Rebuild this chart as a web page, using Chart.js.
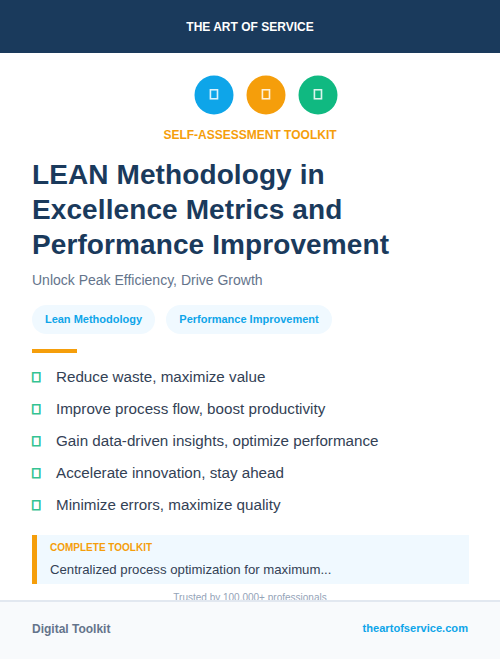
<!DOCTYPE html>
<html>
<head>
<meta charset="utf-8">
<script src="https://cdn.jsdelivr.net/npm/chart.js@4"></script>
<style>
html, body { margin: 0; padding: 0; background: #fff; }
body { position: relative; width: 500px; height: 659px; overflow: hidden; font-family: "Liberation Sans", sans-serif; }
.abs { position: absolute; white-space: nowrap; }
#header { left: 0; top: 0; width: 500px; height: 53px; background: #1a3a5c; color: #fff; font-size: 12px; font-weight: 700; line-height: 54px; text-align: center; }
#icons { left: 188px; top: 69px; width: 156px; height: 52px; }
#kit { left: 0; width: 500px; top: 128px; text-align: center; font-size: 12px; font-weight: 700; color: #f59e0b; line-height: 14px; }
.title { left: 32px; font-size: 28px; letter-spacing: 0.1px; font-weight: 700; color: #1a3a5c; line-height: 35px; }
#sub { left: 32px; top: 272px; font-size: 14px; line-height: 16px; color: #64748b; }
.pill { top: 305px; height: 29px; line-height: 28px; border-radius: 15px; background: #f0f9ff; color: #0ea5e9; font-size: 11px; font-weight: 700; text-align: center; }
#rule { left: 32px; top: 349px; width: 45px; height: 4px; background: #f59e0b; }
.tick { left: 31px; font-size: 14px; line-height: 18px; color: #10b981; -webkit-text-stroke: 1px #10b981; opacity: 0.85; }
.item { left: 56px; font-size: 15.2px; line-height: 18px; color: #334155; }
#note { left: 32px; top: 535px; width: 432px; height: 49px; background: #f0f9ff; border-left: 5px solid #f59e0b; }
#noteHead { left: 50px; top: 542px; font-size: 10px; line-height: 12px; font-weight: 700; color: #f59e0b; }
#noteText { left: 50px; top: 562px; font-size: 13.2px; line-height: 15px; color: #334155; }
#trusted { left: 0; width: 500px; top: 592px; text-align: center; font-size: 10px; line-height: 12px; color: #94a3b8; }
#footer { left: 0; top: 600px; width: 500px; height: 57px; background: #f8fafc; border-top: 2px solid #e2e8f0; }
#digital { left: 32px; top: 622px; font-size: 12px; line-height: 14px; font-weight: 700; color: #64748b; }
#site { right: 32px; top: 621px; font-size: 11.1px; line-height: 14px; font-weight: 700; color: #0ea5e9; }
</style>
</head>
<body>
<div class="abs" id="header"></div>
<div class="abs" id="icons"><canvas id="iconChart"></canvas></div>
<div class="abs" id="kit"></div>
<div id="titles"></div>
<div class="abs" id="sub"></div>
<div id="pills"></div>
<div class="abs" id="rule"></div>
<div id="list"></div>
<div class="abs" id="note"></div>
<div class="abs" id="noteHead"></div>
<div class="abs" id="noteText"></div>
<div class="abs" id="trusted"></div>
<div class="abs" id="footer"></div>
<div class="abs" id="digital"></div>
<div class="abs" id="site"></div>
<script>
const brand = 'THE ART OF SERVICE';
const kicker = 'SELF-ASSESSMENT TOOLKIT';
const titleLines = ['LEAN Methodology in', 'Excellence Metrics and', 'Performance Improvement'];
const subtitle = 'Unlock Peak Efficiency, Drive Growth';
const tags = ['Lean Methodology', 'Performance Improvement'];
const benefits = [
    'Reduce waste, maximize value',
    'Improve process flow, boost productivity',
    'Gain data-driven insights, optimize performance',
    'Accelerate innovation, stay ahead',
    'Minimize errors, maximize quality'
];

const iconCategories = ['a', 'b', 'c'];
const iconValues = [1, 1, 1];
const iconColors = ['#0ea5e9', '#f59e0b', '#10b981'];
const missingGlyph = '\uf00c';

function addText(parent, cls, text, css) {
    const el = document.createElement('div');
    el.className = 'abs ' + cls;
    el.textContent = text;
    Object.assign(el.style, css);
    parent.appendChild(el);
}

document.getElementById('header').textContent = brand;
document.getElementById('kit').textContent = kicker;
document.getElementById('sub').textContent = subtitle;
document.getElementById('noteHead').textContent = 'COMPLETE TOOLKIT';
document.getElementById('noteText').textContent = 'Centralized process optimization for maximum...';
document.getElementById('trusted').textContent = 'Trusted by 100,000+ professionals';
document.getElementById('digital').textContent = 'Digital Toolkit';
document.getElementById('site').textContent = 'theartofservice.com';

titleLines.forEach((t, i) => addText(document.getElementById('titles'), 'title', t, { top: (157 + i * 35) + 'px' }));
addText(document.getElementById('pills'), 'pill', tags[0], { left: '32px', width: '123px' });
addText(document.getElementById('pills'), 'pill', tags[1], { left: '166px', width: '166px' });
benefits.forEach((t, i) => {
    const top = (368 + i * 32) + 'px';
    addText(document.getElementById('list'), 'tick', missingGlyph, { top: top });
    addText(document.getElementById('list'), 'item', t, { top: top });
});

// glyph in the middle of each circle
const iconGlyphs = {
    id: 'iconGlyphs',
    afterDatasetsDraw(chart) {
        const c = chart.ctx;
        c.save();
        c.font = '14px "Liberation Sans"';
        c.fillStyle = 'rgba(255,255,255,0.85)';
        c.strokeStyle = 'rgba(255,255,255,0.85)';
        c.lineWidth = 1;
        c.textAlign = 'center';
        c.textBaseline = 'middle';
        chart.getDatasetMeta(0).data.forEach(p => {
            c.strokeText(missingGlyph, p.x, p.y);
        });
        c.restore();
    }
};

new Chart(document.getElementById('iconChart'), {
    type: 'line',
    data: {
        labels: iconCategories,
        datasets: [{
            data: iconValues,
            showLine: false,
            pointRadius: 19.5,
            pointBorderWidth: 0,
            pointBackgroundColor: iconColors
        }]
    },
    options: {
        responsive: true,
        maintainAspectRatio: false,
        animation: false,
        events: [],
        layout: { padding: 0, autoPadding: false },
        scales: {
            x: { display: false, offset: true },
            y: { display: false, min: 0, max: 2 }
        },
        plugins: {
            legend: { display: false },
            title: { display: false },
            tooltip: { enabled: false }
        }
    },
    plugins: [iconGlyphs]
});
</script>
</body>
</html>
